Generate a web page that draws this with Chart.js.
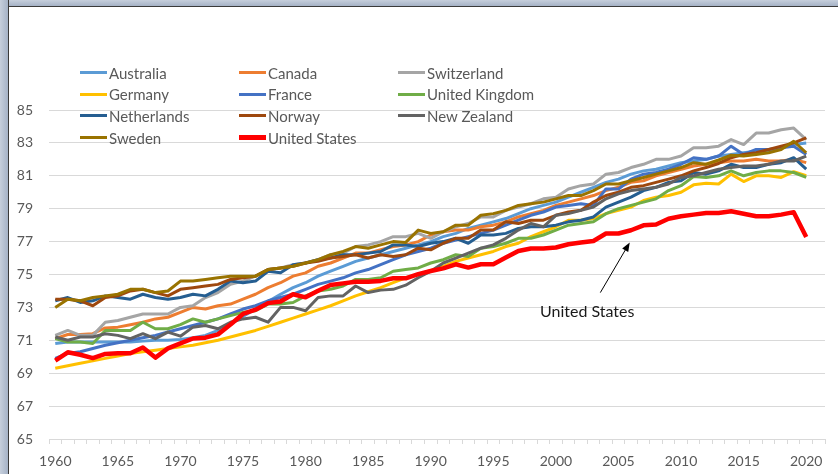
<!DOCTYPE html>
<html lang="en">
  <head>
    <meta charset="UTF-8" />
    <title>Life expectancy at birth, 1960-2020</title>
    <script src="https://cdn.jsdelivr.net/npm/chart.js"></script>
    <style>
      html, body { margin: 0; padding: 0; background: #fff; }
      #frame { position: relative; width: 838px; height: 474px; overflow: hidden; background: #fff; }
      #topBand { position: absolute; left: 0; top: 0; width: 838px; height: 6px;
        background: linear-gradient(#c6cfdc, #a5b2c6); border-bottom: 1px solid #3a3a3a; }
      #leftBand { position: absolute; left: 0; top: 0; width: 8px; height: 474px;
        background: linear-gradient(90deg, #c6cfdc, #a5b2c6); border-right: 1px solid #3a3a3a; }
      #wrap { position: absolute; left: 10px; top: 7px; width: 828px; height: 467px; }
      #legend { position: absolute; left: 80px; top: 62px; display: grid;
        grid-template-columns: 159px 159px 159px; grid-auto-rows: 21.6px; align-items: center;
        font-family: Lato, "Open Sans", sans-serif; font-size: 15px; color: #595959; z-index: 2; }
      .item { display: flex; align-items: center; white-space: nowrap; }
      .swatch { display: inline-block; width: 27px; margin-right: 2px; }
    </style>
  </head>
  <body>
    <div id="frame">
      <div id="wrap"><canvas id="lifeChart" width="828" height="467"></canvas></div>
      <div id="topBand"></div>
      <div id="leftBand"></div>
      <div id="legend"></div>
    </div>

    <script>
      // categories (one per year, the last one is left empty like in the sheet)
      const years = [
        1960, 1961, 1962, 1963, 1964, 1965, 1966, 1967, 1968, 1969,
        1970, 1971, 1972, 1973, 1974, 1975, 1976, 1977, 1978, 1979,
        1980, 1981, 1982, 1983, 1984, 1985, 1986, 1987, 1988, 1989,
        1990, 1991, 1992, 1993, 1994, 1995, 1996, 1997, 1998, 1999,
        2000, 2001, 2002, 2003, 2004, 2005, 2006, 2007, 2008, 2009,
        2010, 2011, 2012, 2013, 2014, 2015, 2016, 2017, 2018, 2019,
        2020, 2021,
      ];
      const yearLabels = [1960, 1965, 1970, 1975, 1980, 1985, 1990, 1995, 2000, 2005, 2010, 2015, 2020];

      // life expectancy at birth, years (1960 .. 2020)
      const australia = [
        70.8, 70.9, 70.9, 70.9, 70.9, 70.9, 70.9, 70.95, 71.0, 71.0,
        71.05, 71.15, 71.3, 71.6, 72.0, 72.45, 72.9, 73.35, 73.8, 74.2,
        74.5, 74.9, 75.2, 75.5, 75.8, 76.0, 76.2, 76.4, 76.6, 76.8,
        77.0, 77.3, 77.5, 77.8, 78.0, 78.2, 78.4, 78.7, 79.0, 79.2,
        79.4, 79.7, 80.0, 80.3, 80.6, 80.8, 81.1, 81.3, 81.4, 81.6,
        81.8, 81.9, 82.0, 82.2, 82.3, 82.4, 82.5, 82.5, 82.7, 82.9,
        83.0,
      ];
      const canada = [
        71.1, 71.35, 71.35, 71.4, 71.75, 71.8, 71.95, 72.1, 72.3, 72.4,
        72.7, 73.0, 72.9, 73.1, 73.2, 73.5, 73.8, 74.2, 74.5, 74.9,
        75.1, 75.5, 75.7, 76.0, 76.3, 76.3, 76.5, 76.7, 76.8, 77.0,
        77.4, 77.6, 77.7, 77.7, 77.9, 78.0, 78.2, 78.5, 78.7, 78.9,
        79.2, 79.4, 79.6, 79.8, 80.1, 80.3, 80.6, 80.7, 81.0, 81.2,
        81.4, 81.6, 81.7, 81.8, 81.9, 81.9, 82.0, 81.9, 81.9, 82.0,
        81.8,
      ];
      const switzerland = [
        71.3, 71.6, 71.3, 71.3, 72.1, 72.2, 72.4, 72.6, 72.6, 72.6,
        73.0, 73.1, 73.6, 73.9, 74.4, 74.6, 74.9, 75.3, 75.4, 75.6,
        75.7, 75.9, 76.2, 76.3, 76.7, 76.8, 77.0, 77.3, 77.3, 77.5,
        77.2, 77.6, 77.9, 78.1, 78.5, 78.5, 78.9, 79.1, 79.3, 79.6,
        79.7, 80.2, 80.4, 80.5, 81.1, 81.2, 81.5, 81.7, 82.0, 82.0,
        82.2, 82.7, 82.7, 82.8, 83.2, 82.9, 83.6, 83.6, 83.8, 83.9,
        83.2,
      ];
      const germany = [
        69.3, 69.45, 69.6, 69.75, 69.9, 70.05, 70.2, 70.3, 70.4, 70.5,
        70.6, 70.7, 70.85, 71.0, 71.2, 71.4, 71.6, 71.85, 72.1, 72.35,
        72.6, 72.85, 73.1, 73.4, 73.7, 73.95, 74.2, 74.5, 74.8, 75.0,
        75.25, 75.5, 75.8, 76.0, 76.2, 76.4, 76.7, 76.9, 77.3, 77.6,
        77.9, 78.3, 78.3, 78.4, 78.7, 78.9, 79.1, 79.5, 79.7, 79.8,
        80.0, 80.45, 80.55, 80.5, 81.1, 80.65, 81.0, 81.0, 80.9, 81.25,
        81.0,
      ];
      const france = [
        69.9, 70.2, 70.3, 70.5, 70.7, 70.85, 71.0, 71.15, 71.3, 71.5,
        71.7, 71.9, 72.1, 72.3, 72.6, 72.9, 73.1, 73.4, 73.6, 73.8,
        74.1, 74.4, 74.6, 74.8, 75.1, 75.3, 75.6, 75.9, 76.2, 76.4,
        76.6, 76.9, 77.1, 77.3, 77.5, 77.7, 78.0, 78.3, 78.6, 78.8,
        79.1, 79.2, 79.3, 79.2, 80.2, 80.2, 80.8, 81.1, 81.2, 81.4,
        81.7, 82.1, 82.0, 82.2, 82.8, 82.3, 82.6, 82.6, 82.7, 82.8,
        82.3,
      ];
      const unitedKingdom = [
        71.1, 70.9, 70.9, 70.8, 71.6, 71.6, 71.6, 72.1, 71.7, 71.7,
        71.95, 72.3, 72.1, 72.3, 72.5, 72.7, 72.8, 73.2, 73.2, 73.3,
        73.7, 74.0, 74.1, 74.3, 74.7, 74.7, 74.8, 75.2, 75.3, 75.4,
        75.7, 75.9, 76.2, 76.1, 76.6, 76.7, 76.9, 77.2, 77.2, 77.4,
        77.7, 78.0, 78.1, 78.2, 78.7, 79.0, 79.2, 79.4, 79.6, 80.1,
        80.4, 80.95, 80.9, 81.0, 81.3, 81.0, 81.2, 81.3, 81.3, 81.2,
        80.9,
      ];
      const netherlands = [
        73.4, 73.6, 73.3, 73.4, 73.7, 73.6, 73.5, 73.8, 73.6, 73.5,
        73.6, 73.8, 73.7, 74.1, 74.6, 74.5, 74.6, 75.2, 75.1, 75.6,
        75.7, 75.9, 76.0, 76.2, 76.2, 76.3, 76.4, 76.8, 76.8, 76.7,
        76.9, 77.0, 77.2, 76.9, 77.4, 77.4, 77.5, 77.8, 77.9, 77.9,
        78.0, 78.2, 78.3, 78.5, 79.1, 79.4, 79.7, 80.1, 80.3, 80.6,
        80.7, 81.2, 81.1, 81.3, 81.7, 81.5, 81.5, 81.7, 81.8, 82.1,
        81.4,
      ];
      const norway = [
        73.5, 73.5, 73.4, 73.1, 73.6, 73.7, 74.0, 74.1, 73.9, 73.7,
        74.1, 74.2, 74.3, 74.4, 74.7, 74.8, 74.9, 75.3, 75.4, 75.5,
        75.7, 75.8, 76.0, 76.1, 76.2, 76.0, 76.2, 76.1, 76.2, 76.6,
        76.5, 76.9, 77.2, 77.2, 77.7, 77.7, 78.2, 78.1, 78.3, 78.3,
        78.6, 78.8, 78.9, 79.4, 79.8, 80.0, 80.3, 80.4, 80.6, 80.8,
        81.0, 81.3, 81.5, 81.75, 82.1, 82.3, 82.4, 82.6, 82.8, 83.0,
        83.3,
      ];
      const newZealand = [
        71.2, 71.0, 71.2, 71.2, 71.4, 71.3, 71.1, 71.4, 71.1, 71.5,
        71.25, 71.8, 71.9, 71.7, 72.1, 72.3, 72.4, 72.1, 73.0, 73.0,
        72.8, 73.6, 73.7, 73.7, 74.3, 73.9, 74.05, 74.1, 74.35, 74.8,
        75.2, 75.7, 76.0, 76.3, 76.6, 76.8, 77.2, 77.7, 78.1, 77.9,
        78.6, 78.7, 78.9, 79.1, 79.6, 79.9, 80.1, 80.2, 80.3, 80.5,
        80.9, 81.0, 81.2, 81.4, 81.5, 81.6, 81.6, 81.7, 81.9, 81.9,
        82.2,
      ];
      const sweden = [
        73.0, 73.5, 73.4, 73.6, 73.7, 73.8, 74.1, 74.1, 73.9, 74.0,
        74.6, 74.6, 74.7, 74.8, 74.9, 74.9, 74.9, 75.3, 75.4, 75.5,
        75.7, 75.9, 76.2, 76.4, 76.7, 76.6, 76.8, 77.0, 76.95, 77.7,
        77.5, 77.6, 78.0, 78.0, 78.6, 78.7, 78.9, 79.2, 79.3, 79.4,
        79.6, 79.8, 79.8, 80.1, 80.5, 80.5, 80.7, 80.9, 81.1, 81.3,
        81.5, 81.8, 81.7, 81.96, 82.25, 82.2, 82.3, 82.4, 82.6, 83.1,
        82.4,
      ];
      const unitedStates = [
        69.77, 70.27, 70.12, 69.92, 70.17, 70.21, 70.21, 70.56, 69.95, 70.51,
        70.81, 71.11, 71.16, 71.36, 71.96, 72.6, 72.86, 73.26, 73.36, 73.8,
        73.61, 74.01, 74.36, 74.46, 74.56, 74.56, 74.61, 74.77, 74.77, 75.02,
        75.21, 75.37, 75.62, 75.42, 75.62, 75.62, 76.03, 76.43, 76.58, 76.58,
        76.64, 76.84, 76.94, 77.04, 77.49, 77.49, 77.69, 77.99, 78.04, 78.39,
        78.54, 78.64, 78.74, 78.74, 78.84, 78.69, 78.54, 78.54, 78.64, 78.79,
        77.28,
      ];

      const countries = [
        "Australia", "Canada", "Switzerland", "Germany", "France",
        "United Kingdom", "Netherlands", "Norway", "New Zealand", "Sweden", "United States",
      ];
      const seriesValues = [
        australia, canada, switzerland, germany, france,
        unitedKingdom, netherlands, norway, newZealand, sweden, unitedStates,
      ];
      const colors = [
        "#5B9BD5", "#ED7D31", "#A5A5A5", "#FFC000", "#4472C4",
        "#70AD47", "#255E91", "#9E480E", "#636363", "#997300", "#FF0000",
      ];

      // callout pointing at the US line (year, value)
      const calloutText = "United States";
      const calloutLabelAt = [2002.5, 72.75];
      const calloutArrowFrom = [2003.55, 73.9];
      const calloutArrowTo = [2005.9, 76.95];

      const fontFamily = 'Lato, "Open Sans", sans-serif';
      const gridColor = "#d9d9d9";
      const textColor = "#595959";

      // legend, three columns like the original
      const legendBox = document.getElementById("legend");
      countries.forEach((name, i) => {
        const item = document.createElement("div");
        item.className = "item";
        const sw = document.createElement("span");
        sw.className = "swatch";
        sw.style.height = name === "United States" ? "5px" : "3px";
        sw.style.background = colors[i];
        item.appendChild(sw);
        item.appendChild(document.createTextNode(name));
        legendBox.appendChild(item);
      });

      const calloutPlugin = {
        id: "callout",
        afterDatasetsDraw(chart) {
          const c = chart.ctx;
          const xs = chart.scales.x;
          const ys = chart.scales.y;
          const px = (p) => [xs.getPixelForValue(p[0] - years[0]), ys.getPixelForValue(p[1])];
          const [x0, y0] = px(calloutArrowFrom);
          const [x1, y1] = px(calloutArrowTo);
          const ang = Math.atan2(y1 - y0, x1 - x0);
          c.save();
          c.strokeStyle = "#000";
          c.fillStyle = "#000";
          c.lineWidth = 1;
          c.beginPath();
          c.moveTo(x0, y0);
          c.lineTo(x1 - 6 * Math.cos(ang), y1 - 6 * Math.sin(ang));
          c.stroke();
          c.beginPath();
          c.moveTo(x1, y1);
          c.lineTo(x1 - 9 * Math.cos(ang) + 3.5 * Math.sin(ang), y1 - 9 * Math.sin(ang) - 3.5 * Math.cos(ang));
          c.lineTo(x1 - 9 * Math.cos(ang) - 3.5 * Math.sin(ang), y1 - 9 * Math.sin(ang) + 3.5 * Math.cos(ang));
          c.closePath();
          c.fill();
          const [tx, ty] = px(calloutLabelAt);
          c.font = "16px " + fontFamily;
          c.fillStyle = "#1a1a1a";
          c.textAlign = "center";
          c.textBaseline = "middle";
          c.fillText(calloutText, tx, ty);
          c.restore();
        },
      };

      const ctx = document.getElementById("lifeChart").getContext("2d");
      new Chart(ctx, {
        type: "line",
        data: {
          labels: years,
          datasets: countries.map((name, i) => ({
            label: name,
            data: seriesValues[i],
            borderColor: colors[i],
            backgroundColor: colors[i],
            borderWidth: name === "United States" ? 4.5 : 3,
            order: countries.length - i, // later series on top, as in the sheet
          })),
        },
        options: {
          responsive: false,
          animation: false,
          layout: { padding: { top: 103, right: 13, left: 0, bottom: 0 } },
          elements: {
            point: { radius: 0 },
            line: { tension: 0, borderJoinStyle: "round", borderCapStyle: "butt" },
          },
          plugins: {
            legend: { display: false },
            tooltip: { enabled: false },
          },
          scales: {
            x: {
              offset: true,
              grid: { offset: true, drawOnChartArea: false, drawTicks: true, tickLength: 5, color: gridColor },
              border: { display: true, color: gridColor },
              ticks: {
                autoSkip: false,
                maxRotation: 0,
                padding: 9,
                color: textColor,
                font: { family: fontFamily, size: 14 },
                callback: function (value) {
                  const y = this.getLabelForValue(value);
                  return yearLabels.includes(Number(y)) ? y : "";
                },
              },
              afterFit: (scale) => { scale.height = 35; },
            },
            y: {
              min: 65,
              max: 85,
              grid: { color: gridColor, drawTicks: false },
              border: { display: false },
              ticks: {
                stepSize: 2,
                padding: 16,
                color: textColor,
                font: { family: fontFamily, size: 14 },
              },
              afterFit: (scale) => { scale.width = 39; },
            },
          },
        },
        plugins: [calloutPlugin],
      });
    </script>
  </body>
</html>
